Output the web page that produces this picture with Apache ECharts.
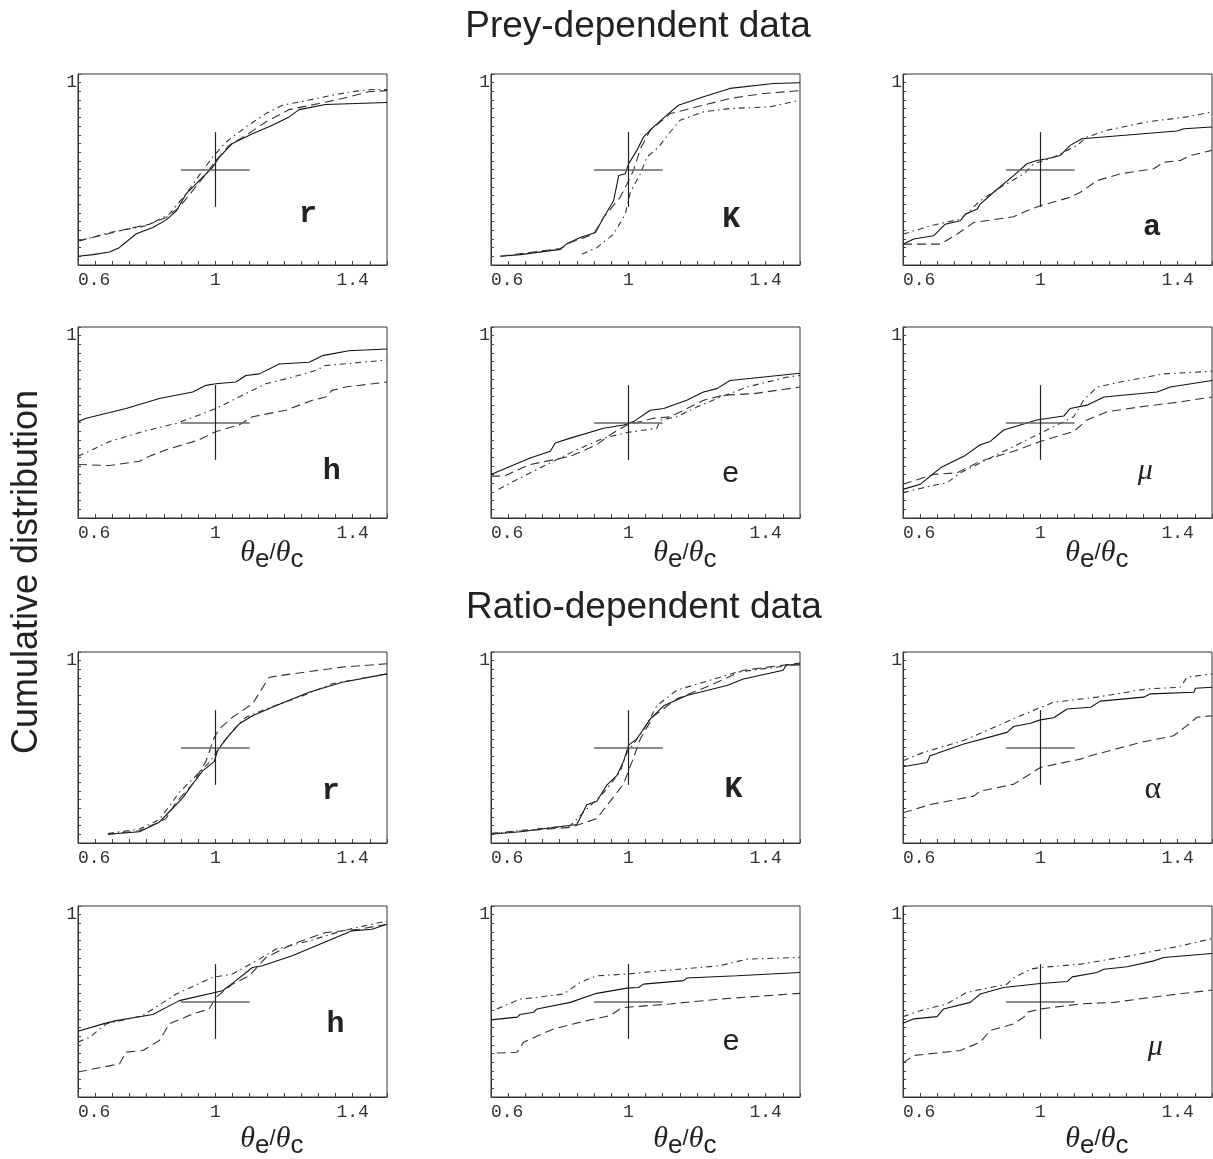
<!DOCTYPE html>
<html>
<head>
<meta charset="utf-8">
<script src="https://cdn.jsdelivr.net/npm/echarts@6/dist/echarts.min.js"></script>
<style>
html, body { margin: 0; padding: 0; background: #fff; }
#chart { width: 1213px; height: 1159px; }
</style>
</head>
<body>
<div id="chart"></div>
<script>
// tick labels
const X_LABELS = [0.6, 1, 1.4];
const Y_LABELS = [1];
const letters = ['r', 'K', 'a', 'h', 'e', 'μ', 'r', 'K', 'α', 'h', 'e', 'μ'];

// prey-dependent data: [theta_e/theta_c, cumulative]
const prey_r_solid = [[0.6,0.0],[0.644,0.01],[0.692,0.025],[0.72,0.05],[0.77,0.13],[0.818,0.166],[0.857,0.21],[0.886,0.26],[0.915,0.36],[0.953,0.436],[0.992,0.513],[1.011,0.57],[1.05,0.65],[1.108,0.706],[1.166,0.755],[1.215,0.803],[1.244,0.845],[1.321,0.874],[1.5,0.886]];
const prey_r_long = [[0.6,0.089],[0.663,0.118],[0.74,0.156],[0.808,0.185],[0.857,0.224],[0.895,0.282],[0.934,0.378],[0.973,0.475],[1.002,0.552],[1.04,0.639],[1.089,0.697],[1.147,0.774],[1.215,0.845],[1.302,0.88],[1.37,0.909],[1.447,0.948],[1.5,0.954]];
const prey_r_short = [[0.605,0.089],[0.692,0.137],[0.799,0.176],[0.866,0.243],[0.915,0.36],[0.963,0.494],[0.992,0.571],[1.031,0.658],[1.089,0.745],[1.147,0.822],[1.195,0.87],[1.273,0.9],[1.34,0.928],[1.398,0.948],[1.456,0.961],[1.5,0.961]];

const prey_K_solid = [[0.627,0.0],[0.685,0.01],[0.802,0.04],[0.821,0.073],[0.86,0.108],[0.904,0.137],[0.928,0.224],[0.957,0.32],[0.972,0.465],[0.991,0.475],[1.001,0.533],[1.025,0.61],[1.044,0.687],[1.068,0.735],[1.112,0.813],[1.146,0.87],[1.219,0.919],[1.296,0.967],[1.423,0.995],[1.5,1.0]];
const prey_K_long = [[0.627,0.0],[0.802,0.045],[0.831,0.079],[0.899,0.127],[0.928,0.224],[0.976,0.34],[0.996,0.417],[1.015,0.494],[1.035,0.62],[1.064,0.726],[1.122,0.822],[1.2,0.861],[1.296,0.909],[1.395,0.938],[1.5,0.954]];
const prey_K_short = [[0.865,0.012],[0.908,0.05],[0.957,0.127],[0.991,0.243],[1.006,0.369],[1.035,0.475],[1.054,0.571],[1.088,0.629],[1.122,0.716],[1.151,0.784],[1.219,0.832],[1.296,0.851],[1.413,0.861],[1.5,0.899]];

const prey_a_solid = [[0.6,0.07],[0.631,0.1],[0.689,0.118],[0.723,0.185],[0.767,0.205],[0.782,0.243],[0.816,0.272],[0.825,0.301],[0.864,0.369],[0.922,0.465],[0.961,0.533],[0.99,0.552],[1.019,0.562],[1.058,0.581],[1.087,0.639],[1.121,0.677],[1.398,0.722],[1.418,0.735],[1.5,0.745]];
const prey_a_long = [[0.6,0.07],[0.709,0.07],[0.757,0.127],[0.806,0.195],[0.922,0.228],[0.961,0.263],[1.0,0.291],[1.087,0.34],[1.117,0.369],[1.165,0.436],[1.233,0.475],[1.33,0.504],[1.359,0.542],[1.408,0.552],[1.437,0.581],[1.5,0.61]];
const prey_a_short = [[0.6,0.127],[0.68,0.176],[0.767,0.214],[0.825,0.32],[0.884,0.398],[0.952,0.475],[0.981,0.533],[1.039,0.571],[1.107,0.639],[1.136,0.687],[1.194,0.726],[1.311,0.774],[1.427,0.803],[1.5,0.832]];

const prey_h_solid = [[0.6,0.505],[0.624,0.524],[0.74,0.581],[0.837,0.638],[0.934,0.676],[0.973,0.714],[1.002,0.723],[1.06,0.733],[1.089,0.771],[1.128,0.78],[1.186,0.837],[1.273,0.847],[1.312,0.885],[1.389,0.913],[1.5,0.923]];
const prey_h_long = [[0.6,0.258],[0.692,0.252],[0.779,0.277],[0.808,0.305],[0.857,0.343],[0.953,0.4],[1.002,0.448],[1.069,0.486],[1.108,0.533],[1.205,0.571],[1.283,0.628],[1.321,0.647],[1.34,0.685],[1.379,0.704],[1.5,0.733]];
const prey_h_short = [[0.6,0.305],[0.692,0.39],[0.789,0.448],[0.886,0.495],[0.953,0.543],[1.002,0.581],[1.031,0.609],[1.079,0.657],[1.147,0.723],[1.224,0.761],[1.292,0.799],[1.321,0.828],[1.5,0.86]];

const prey_e_solid = [[0.6,0.2],[0.714,0.296],[0.773,0.334],[0.787,0.382],[0.831,0.41],[0.928,0.467],[0.986,0.486],[1.015,0.505],[1.064,0.571],[1.103,0.581],[1.17,0.628],[1.219,0.676],[1.258,0.695],[1.296,0.742],[1.5,0.784]];
const prey_e_long = [[0.6,0.191],[0.637,0.191],[0.714,0.258],[0.831,0.305],[0.908,0.372],[0.947,0.429],[0.996,0.486],[1.073,0.524],[1.122,0.533],[1.219,0.628],[1.277,0.657],[1.364,0.666],[1.5,0.704]];
const prey_e_short = [[0.622,0.115],[0.685,0.181],[0.782,0.277],[0.85,0.343],[0.928,0.41],[0.996,0.442],[1.083,0.467],[1.093,0.514],[1.141,0.533],[1.2,0.59],[1.258,0.638],[1.345,0.704],[1.461,0.761],[1.5,0.771]];

const prey_mu_solid = [[0.6,0.115],[0.65,0.144],[0.709,0.239],[0.777,0.305],[0.825,0.372],[0.854,0.391],[0.893,0.457],[0.932,0.48],[0.99,0.514],[1.068,0.537],[1.087,0.581],[1.136,0.6],[1.185,0.647],[1.34,0.676],[1.379,0.704],[1.5,0.742]];
const prey_mu_long = [[0.6,0.144],[0.689,0.201],[0.757,0.21],[0.825,0.277],[0.922,0.334],[1.0,0.391],[1.097,0.448],[1.136,0.514],[1.194,0.562],[1.291,0.59],[1.408,0.619],[1.5,0.647]];
const prey_mu_short = [[0.6,0.096],[0.68,0.134],[0.728,0.153],[0.767,0.21],[0.825,0.267],[0.922,0.362],[0.971,0.41],[1.0,0.438],[1.049,0.486],[1.097,0.533],[1.126,0.628],[1.165,0.704],[1.233,0.733],[1.359,0.78],[1.5,0.795]];

// ratio-dependent data
const ratio_r_solid = [[0.687,0.0],[0.779,0.015],[0.837,0.07],[0.866,0.13],[0.905,0.21],[0.934,0.29],[0.963,0.365],[0.997,0.42],[1.006,0.48],[1.031,0.55],[1.069,0.635],[1.108,0.683],[1.176,0.74],[1.273,0.818],[1.37,0.876],[1.5,0.924]];
const ratio_r_long = [[0.687,0.0],[0.779,0.02],[0.856,0.089],[0.886,0.185],[0.934,0.29],[0.973,0.423],[0.997,0.558],[1.011,0.606],[1.05,0.674],[1.108,0.751],[1.157,0.905],[1.224,0.924],[1.369,0.963],[1.5,0.982]];
const ratio_r_short = [[0.687,0.005],[0.779,0.03],[0.837,0.085],[0.895,0.241],[0.944,0.338],[0.983,0.415],[1.006,0.482],[1.05,0.598],[1.089,0.674],[1.147,0.722],[1.244,0.79],[1.34,0.867],[1.5,0.924]];

const ratio_K_solid = [[0.6,0.0],[0.685,0.015],[0.85,0.057],[0.879,0.17],[0.908,0.19],[0.938,0.285],[0.967,0.34],[0.986,0.42],[1.001,0.514],[1.025,0.55],[1.064,0.665],[1.103,0.74],[1.17,0.8],[1.287,0.857],[1.335,0.895],[1.451,0.945],[1.46,0.976],[1.5,0.976]];
const ratio_K_long = [[0.6,0.005],[0.831,0.04],[0.908,0.09],[0.947,0.19],[0.986,0.29],[1.015,0.44],[1.035,0.55],[1.073,0.68],[1.141,0.78],[1.238,0.857],[1.335,0.945],[1.5,0.986]];
const ratio_K_short = [[0.6,0.005],[0.831,0.05],[0.86,0.108],[0.928,0.24],[0.976,0.36],[0.996,0.47],[1.044,0.6],[1.083,0.74],[1.141,0.83],[1.219,0.876],[1.316,0.934],[1.5,0.98]];

const ratio_alpha_solid = [[0.6,0.389],[0.67,0.414],[0.679,0.453],[0.777,0.52],[0.903,0.587],[0.922,0.621],[0.971,0.64],[1.0,0.659],[1.039,0.671],[1.078,0.722],[1.146,0.732],[1.175,0.767],[1.301,0.79],[1.321,0.809],[1.447,0.818],[1.452,0.841],[1.5,0.847]];
const ratio_alpha_long = [[0.6,0.124],[0.68,0.172],[0.806,0.22],[0.825,0.249],[0.922,0.288],[0.961,0.336],[1.0,0.385],[1.117,0.433],[1.146,0.452],[1.291,0.529],[1.388,0.568],[1.427,0.626],[1.456,0.674],[1.5,0.683]];
const ratio_alpha_short = [[0.6,0.424],[0.66,0.472],[0.777,0.54],[0.854,0.607],[0.942,0.683],[1.039,0.761],[1.165,0.79],[1.311,0.838],[1.408,0.847],[1.427,0.905],[1.5,0.924]];

const ratio_h_solid = [[0.6,0.329],[0.673,0.371],[0.711,0.39],[0.818,0.425],[0.895,0.505],[1.021,0.562],[1.06,0.62],[1.108,0.696],[1.137,0.706],[1.224,0.763],[1.398,0.907],[1.456,0.916],[1.5,0.945]];
const ratio_h_long = [[0.6,0.094],[0.721,0.141],[0.74,0.208],[0.789,0.218],[0.837,0.275],[0.866,0.371],[0.934,0.428],[0.982,0.457],[1.002,0.524],[1.05,0.6],[1.099,0.648],[1.147,0.753],[1.224,0.83],[1.321,0.897],[1.418,0.916],[1.5,0.945]];
const ratio_h_short = [[0.6,0.266],[0.634,0.294],[0.682,0.371],[0.789,0.419],[0.886,0.543],[0.992,0.639],[1.05,0.658],[1.128,0.744],[1.176,0.801],[1.273,0.849],[1.37,0.907],[1.5,0.964]];

const ratio_e_solid = [[0.6,0.394],[0.676,0.41],[0.685,0.425],[0.724,0.438],[0.734,0.457],[0.831,0.495],[0.908,0.547],[0.996,0.577],[1.03,0.581],[1.044,0.6],[1.161,0.62],[1.17,0.635],[1.316,0.648],[1.5,0.667]];
const ratio_e_long = [[0.617,0.203],[0.676,0.208],[0.695,0.266],[0.782,0.342],[0.879,0.39],[0.947,0.419],[0.976,0.457],[0.996,0.467],[1.122,0.486],[1.267,0.514],[1.5,0.547]];
const ratio_e_short = [[0.617,0.457],[0.685,0.514],[0.734,0.524],[0.811,0.543],[0.86,0.61],[0.908,0.648],[0.996,0.658],[1.093,0.677],[1.267,0.706],[1.345,0.744],[1.5,0.754]];

const ratio_mu_solid = [[0.6,0.375],[0.631,0.4],[0.699,0.413],[0.718,0.457],[0.796,0.495],[0.825,0.543],[0.893,0.581],[1.0,0.604],[1.078,0.615],[1.093,0.642],[1.165,0.667],[1.185,0.686],[1.253,0.7],[1.33,0.734],[1.359,0.753],[1.5,0.776]];
const ratio_mu_long = [[0.6,0.145],[0.631,0.189],[0.767,0.218],[0.825,0.266],[0.854,0.333],[0.922,0.371],[0.952,0.41],[0.961,0.438],[1.0,0.457],[1.117,0.486],[1.214,0.495],[1.359,0.533],[1.5,0.566]];
const ratio_mu_short = [[0.6,0.413],[0.65,0.447],[0.728,0.486],[0.786,0.553],[0.903,0.6],[0.922,0.635],[0.971,0.686],[1.0,0.696],[1.117,0.715],[1.262,0.763],[1.408,0.82],[1.5,0.862]];

// where the panel letter sits, in axis units
const letterPos = [[1.27,0.24],[1.30,0.21],[1.325,0.166],[1.339,0.22],[1.298,0.206],[1.306,0.22],
                   [1.336,0.249],[1.306,0.26],[1.328,0.26],[1.35,0.37],[1.299,0.266],[1.335,0.237]];

const panelLines = [
  [prey_r_solid, prey_r_long, prey_r_short],
  [prey_K_solid, prey_K_long, prey_K_short],
  [prey_a_solid, prey_a_long, prey_a_short],
  [prey_h_solid, prey_h_long, prey_h_short],
  [prey_e_solid, prey_e_long, prey_e_short],
  [prey_mu_solid, prey_mu_long, prey_mu_short],
  [ratio_r_solid, ratio_r_long, ratio_r_short],
  [ratio_K_solid, ratio_K_long, ratio_K_short],
  [ratio_alpha_solid, ratio_alpha_long, ratio_alpha_short],
  [ratio_h_solid, ratio_h_long, ratio_h_short],
  [ratio_e_solid, ratio_e_long, ratio_e_short],
  [ratio_mu_solid, ratio_mu_long, ratio_mu_short]
];

const colLeft = [78, 491, 903];
const rowTop = [74, 327, 652, 906];
const W = 309, H = 191;
const X_MIN = 0.6, X_MAX = 1.5, Y_MIN = -0.05, Y_MAX = 1.05;

const lineStyles = [
  { type: 'solid', color: '#111', width: 1.1 },
  { type: [9, 5], color: '#333', width: 1.1 },
  { type: [6, 4, 1.5, 4], color: '#333', width: 1.1 }
];

function letterFont(ch) {
  if (ch === 'e') return { fontFamily: 'Liberation Sans', fontSize: 30 };
  if (ch === 'μ') return { fontFamily: 'Liberation Serif', fontStyle: 'italic', fontSize: 30 };
  if (ch === 'α') return { fontFamily: 'Liberation Serif', fontSize: 32 };
  return { fontFamily: 'Liberation Mono', fontSize: 30, fontWeight: 'bold' };
}

const chart = echarts.init(document.getElementById('chart'));
const grids = [], xAxes = [], yAxes = [], series = [], graphics = [];

panelLines.forEach((lines, i) => {
  const row = Math.floor(i / 3), col = i % 3;
  const left = colLeft[col], top = rowTop[row];
  grids.push({
    left, top, width: W, height: H,
    show: true, borderColor: '#333', borderWidth: 1,
    backgroundColor: 'transparent', outerBoundsMode: 'none'
  });
  xAxes.push({
    type: 'value', gridIndex: i, min: X_MIN, max: X_MAX, interval: 0.05,
    axisLine: { show: true, onZero: false, lineStyle: { color: '#333', width: 1 } },
    axisTick: { show: true, inside: true, length: 4, lineStyle: { color: '#444' } },
    splitLine: { show: false },
    axisLabel: {
      show: true, margin: 6, color: '#333', fontFamily: 'Liberation Mono', fontSize: 18,
      alignMinLabel: 'left',
      formatter: v => {
        const r = Math.round(v * 100) / 100;
        return X_LABELS.includes(r) ? String(r) : '';
      }
    }
  });
  yAxes.push({
    type: 'value', gridIndex: i, min: Y_MIN, max: Y_MAX, interval: 0.05,
    axisLine: { show: true, onZero: false, lineStyle: { color: '#333', width: 1 } },
    axisTick: { show: true, inside: true, length: 3, lineStyle: { color: '#444' } },
    splitLine: { show: false },
    axisLabel: {
      show: true, margin: 1, color: '#333', fontFamily: 'Liberation Mono', fontSize: 18,
      formatter: v => {
        const r = Math.round(v * 100) / 100;
        return Y_LABELS.includes(r) ? String(r) : '';
      }
    }
  });
  lines.forEach((data, k) => {
    const s = {
      type: 'line', xAxisIndex: i, yAxisIndex: i, data,
      showSymbol: false, symbol: 'none', smooth: false, clip: true,
      lineStyle: lineStyles[k], silent: true
    };
    if (k === 0) {
      // crosshair at (1, 0.5)
      s.markLine = {
        silent: true, symbol: ['none', 'none'], label: { show: false },
        lineStyle: { type: 'solid', color: '#666', width: 1.5 },
        data: [
          [{ coord: [0.9, 0.5] }, { coord: [1.1, 0.5] }],
          [{ coord: [1, 0.285], lineStyle: { color: '#222', width: 1.2, type: 'solid' } }, { coord: [1, 0.715] }]
        ]
      };
    }
    series.push(s);
  });

  // panel letter
  const [lx, ly] = letterPos[i];
  graphics.push({
    type: 'text',
    x: left + (lx - X_MIN) / (X_MAX - X_MIN) * W,
    y: top + (Y_MAX - ly) / (Y_MAX - Y_MIN) * H,
    style: Object.assign({ text: letters[i], fill: '#222', align: 'center', verticalAlign: 'middle' }, letterFont(letters[i]))
  });

  // x axis name under rows 2 and 4
  if (row === 1 || row === 3) {
    graphics.push({
      type: 'text',
      x: left + (1 - X_MIN) / (X_MAX - X_MIN) * W + 25,
      y: row === 1 ? 553 : 1139,
      style: {
        text: '{t|θ}{s|e}{sl|/}{t|θ}{s|c}',
        align: 'left', verticalAlign: 'middle', fill: '#222',
        rich: {
          t: { fontFamily: 'Liberation Serif', fontStyle: 'italic', fontSize: 30, fill: '#222' },
          s: { fontFamily: 'Liberation Sans', fontSize: 26, padding: [14, 0, 0, 0], fill: '#222' },
          sl: { fontFamily: 'Liberation Sans', fontSize: 22, fill: '#222' }
        }
      }
    });
  }
});

graphics.push(
  { type: 'text', x: 638, y: 27, style: { text: 'Prey-dependent data', align: 'center', verticalAlign: 'middle', fontFamily: 'Liberation Sans', fontSize: 37, fill: '#222' } },
  { type: 'text', x: 644, y: 608, style: { text: 'Ratio-dependent data', align: 'center', verticalAlign: 'middle', fontFamily: 'Liberation Sans', fontSize: 37, fill: '#222' } },
  { type: 'text', x: 27, y: 572, rotation: Math.PI / 2, style: { text: 'Cumulative distribution', align: 'center', verticalAlign: 'middle', fontFamily: 'Liberation Sans', fontSize: 36, fill: '#222' } }
);

chart.setOption({
  animation: false,
  backgroundColor: '#fff',
  grid: grids,
  xAxis: xAxes,
  yAxis: yAxes,
  series,
  graphic: graphics
});
</script>
</body>
</html>
